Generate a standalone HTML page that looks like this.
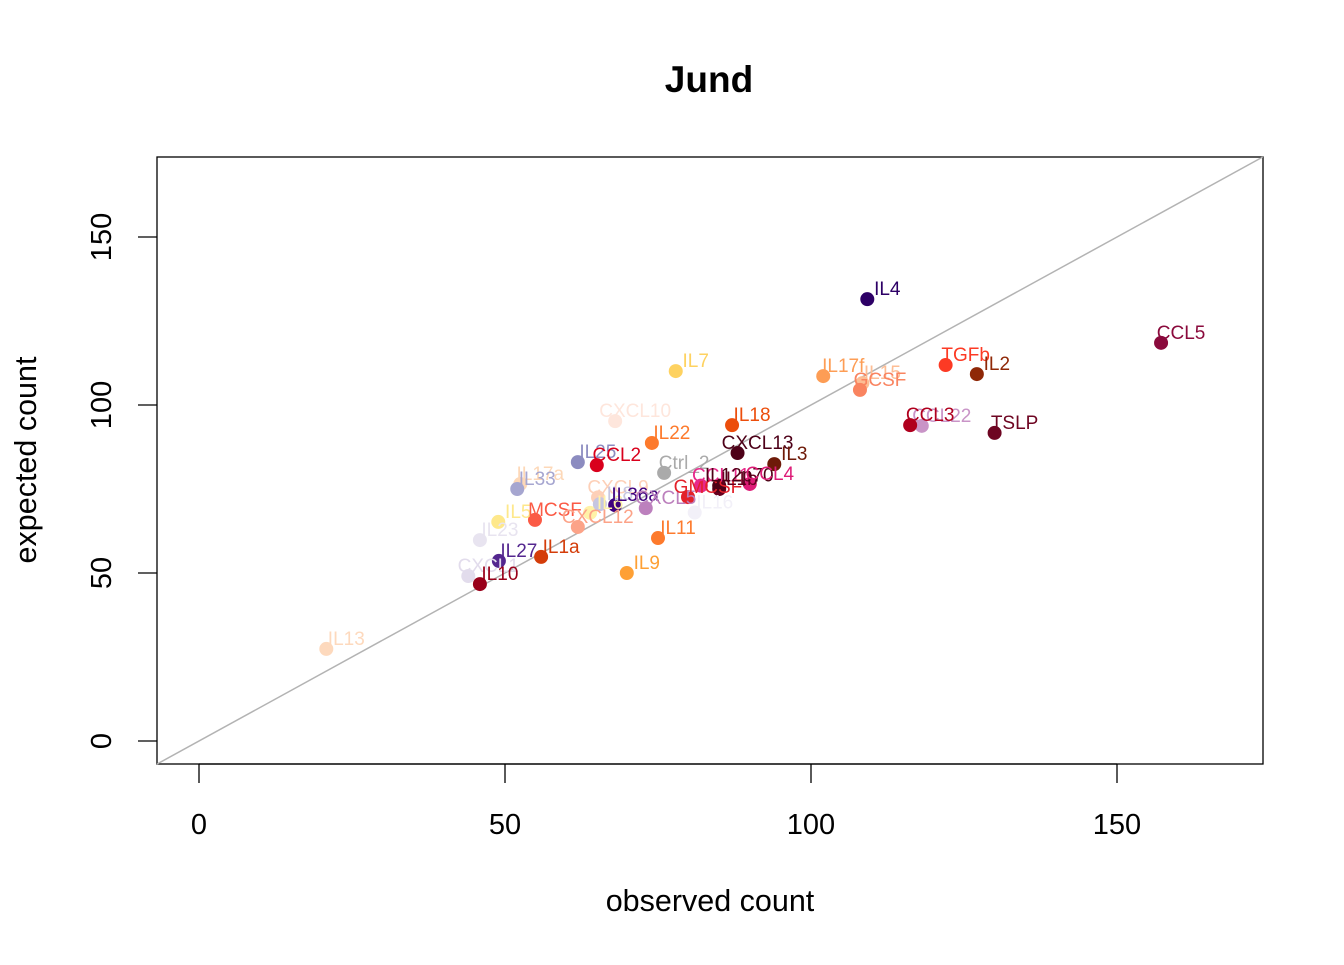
<!DOCTYPE html>
<html><head><meta charset="utf-8"><style>
body{margin:0;background:#fff}
svg text{font-family:"Liberation Sans",Arial,sans-serif}
</style></head><body>
<svg id="chart" width="1344" height="960" viewBox="0 0 1344 960">
<text x="709" y="92" text-anchor="middle" font-size="37" font-weight="bold">Jund</text>
<rect x="157" y="157" width="1106" height="607" fill="none" stroke="#000" stroke-width="1.3"/>
<g id="axes"></g>
<g id="marks"></g>
<text x="710" y="911" text-anchor="middle" font-size="30.5">observed count</text>
<text transform="translate(36,460) rotate(-90)" text-anchor="middle" font-size="30.5">expected count</text>
</svg>
<script>
const names=["IL13","CXCL1","IL10","IL27","IL23","IL5","IL17a","IL33","MCSF","IL1a","IL25","CCL2","CXCL9","CXCL12","IL6","IL8","IL36a","CXCL10","CXCL5","IL16","Ctrl_2","IL22","IL7","IL11","IL9","GMCSF","CCL11","IL1b","IL12p70","CCL4","CXCL13","IL3","IL18","IL17f","IL15","GCSF","IL4","CCL22","CCL3","TGFb","IL2","TSLP","CCL5"];
const observed=[20.8,44,45.9,49,45.9,48.9,52.5,52,54.9,55.9,61.9,65,65.2,61.9,63.9,65.5,68,68,73,81,76,74,77.9,75,69.9,79.9,82,85,85,90,88,94,87.1,102,108.4,108,109.2,118.1,116.2,122,127.1,130,157.2];
const expected=[27.4,49.1,46.7,53.6,59.8,65.2,76.5,75,65.8,54.8,83,82.1,72.5,63.7,67.9,70.5,70.2,95.2,69.3,68,79.8,88.7,110.1,60.4,50,72.6,76,75,76,76.5,85.7,82.4,94,108.6,106.5,104.5,131.5,93.8,94,111.9,109.2,91.7,118.5];
const colors=["#fdd9bd","#e2dcec","#99001a","#54278f","#e8e4f0","#fee88b","#fdd8b8","#a6a6d0","#fb5a45","#d43d0a","#8c8cc0","#d9001c","#fdd0b8","#fca388","#fff2a8","#c6c6e0","#3f007d","#fee6dc","#bc80bd","#f2f0f8","#aaaaaa","#fd7a2c","#fed260","#fd7a2c","#fea035","#e3212a","#e7298a","#67001f","#4d0015","#dd1c77","#4d0018","#6e1a08","#ec4e0c","#fd9d55","#fdbd94","#f98460","#2d0066","#c994c7","#b0001e","#fc3a24","#8f2807","#6e0522","#8a0a3c"];
const xTicks=[0,50,100,150], yTicks=[0,50,100,150];
const X=v=>199+v*6.12, Y=v=>741-v*3.36;
const NS="http://www.w3.org/2000/svg";
const axes=document.getElementById('axes'), marks=document.getElementById('marks');
function mk(tag,attrs,parent){const e=document.createElementNS(NS,tag);for(const k in attrs)e.setAttribute(k,attrs[k]);parent.appendChild(e);return e;}
xTicks.forEach(t=>{
  const l=mk('line',{x1:X(t),x2:X(t),y1:764,y2:783,stroke:'#000','stroke-width':1.3},axes);
  
  
  const tx=mk('text',{x:X(t),y:834,'text-anchor':'middle','font-size':29},axes);tx.textContent=t;
  
  
});
const xl=mk('line',{x1:X(0),x2:X(150),y1:764,y2:764,stroke:'#000','stroke-width':1.3},axes);


yTicks.forEach(t=>{
  const l=mk('line',{x1:138,x2:157,y1:Y(t),y2:Y(t),stroke:'#000','stroke-width':1.3},axes);
  
  
  const tx=mk('text',{'text-anchor':'middle','font-size':29,transform:`translate(111,${Y(t)}) rotate(-90)`},axes);tx.textContent=t;
  
  
});
const lo=(764-741)/-3.36, hi=(157-741)/-3.36;
const dl=mk('line',{x1:X(Math.max(lo,(157-199)/6.12)),y1:Y(Math.max(lo,(157-199)/6.12)),x2:X(Math.min(hi,(1263-199)/6.12)),y2:Y(Math.min(hi,(1263-199)/6.12)),stroke:'#b3b3b3','stroke-width':1.5},marks);


names.forEach((n,i)=>{
  const c=mk('circle',{cx:X(observed[i]),cy:Y(expected[i]),r:7,fill:colors[i]},marks);
  
  
});
names.forEach((n,i)=>{
  const t=mk('text',{x:X(observed[i])+20,y:Y(expected[i])-4,'text-anchor':'middle','font-size':19,fill:colors[i]},marks);
  t.textContent=n;
  
  
});
</script>
</body></html>
